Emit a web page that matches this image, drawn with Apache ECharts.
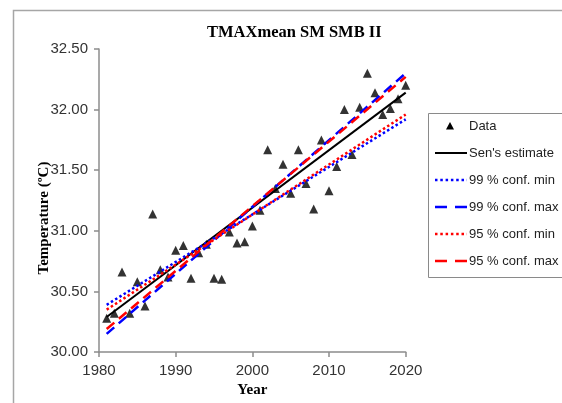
<!DOCTYPE html>
<html>
<head>
<meta charset="utf-8">
<script src="https://cdn.jsdelivr.net/npm/echarts@6/dist/echarts.min.js"></script>
<style>
html,body{margin:0;padding:0;background:#fff;}
#chart{width:562px;height:403px;}
</style>
</head>
<body>
<div id="chart"></div>
<script>
// ---- data ----
const years = [1981,1982,1983,1984,1985,1986,1987,1988,1989,1990,
               1991,1992,1993,1994,1995,1996,1997,1998,1999,2000,
               2001,2002,2003,2004,2005,2006,2007,2008,2009,2010,
               2011,2012,2013,2014,2015,2016,2017,2018,2019,2020];
const tmaxMean = [30.28,30.32,30.66,30.32,30.58,30.38,31.14,30.68,30.62,30.84,
                  30.88,30.61,30.82,30.89,30.61,30.60,30.99,30.90,30.91,31.04,
                  31.17,31.67,31.35,31.55,31.31,31.67,31.39,31.18,31.75,31.33,
                  31.53,32.00,31.63,32.02,32.30,32.14,31.96,32.01,32.09,32.20];
const fitYears = [1981, 2020];
const senEstimate = [30.29, 32.14];
const conf99Min = [30.39, 31.92];
const conf99Max = [30.15, 32.30];
const conf95Min = [30.35, 31.96];
const conf95Max = [30.19, 32.27];
const seriesNames = ['Data', "Sen's estimate", '99 % conf. min', '99 % conf. max', '95 % conf. min', '95 % conf. max'];
const xTicks = ['1980', '1990', '2000', '2010', '2020'];
const yTicks = ['30.00','30.50','31.00','31.50','32.00','32.50'];

// ---- chart ----
const serifFont = "'Liberation Serif', 'Times New Roman', serif";
const sansFont = "'Liberation Sans', Arial, sans-serif";
const pair = vals => fitYears.map((y, i) => [y, vals[i]]);

const lineDefs = [
  {name: seriesNames[1], vals: senEstimate, color: '#000000', dash: 'solid', legendDash: null, width: 2},
  {name: seriesNames[2], vals: conf99Min, color: '#0000ff', dash: [2.5, 2.5], legendDash: [2.5, 2.8], width: 2.5},
  {name: seriesNames[3], vals: conf99Max, color: '#0000ff', dash: [10, 6], legendDash: [12, 8], width: 2.5},
  {name: seriesNames[4], vals: conf95Min, color: '#ff0000', dash: [2.5, 2.5], legendDash: [2.5, 2.8], width: 2.5},
  {name: seriesNames[5], vals: conf95Max, color: '#ff0000', dash: [10, 6], legendDash: [12, 8], width: 2.5}
];

const series = [{
  name: seriesNames[0],
  type: 'scatter',
  symbol: 'triangle',
  symbolSize: 9,
  itemStyle: {color: '#000'},
  data: years.map((y, i) => [y, tmaxMean[i]]),
  z: 2
}].concat(lineDefs.map((d, k) => ({
  name: d.name,
  type: 'line',
  showSymbol: false,
  symbol: 'none',
  data: pair(d.vals),
  lineStyle: {color: d.color, width: d.width, type: d.dash},
  z: 3 + k
})));

// legend drawn as graphics
const legendX = 428, legendY = 113, rowStart = 126, rowGap = 27;
const legendGraphics = [{
  type: 'rect',
  shape: {x: legendX + 0.5, y: legendY + 0.5, width: 200, height: 164},
  style: {fill: '#fff', stroke: '#8a8a8a', lineWidth: 1},
  z: 10
}];
legendGraphics.push({
  type: 'polygon',
  shape: {points: [[450, rowStart - 4], [454, rowStart + 3.5], [446, rowStart + 3.5]]},
  style: {fill: '#000'},
  z: 11
});
lineDefs.forEach((d, k) => {
  const yy = rowStart + rowGap * (k + 1);
  legendGraphics.push({
    type: 'line',
    shape: {x1: 435, y1: yy, x2: 467, y2: yy},
    style: {stroke: d.color, lineWidth: d.width, lineDash: d.legendDash},
    z: 11
  });
});
seriesNames.forEach((n, k) => {
  legendGraphics.push({
    type: 'text',
    x: 469, y: rowStart + rowGap * k,
    style: {text: n, font: '13px ' + sansFont, fill: '#222', textVerticalAlign: 'middle'},
    z: 11
  });
});

const option = {
  animation: false,
  backgroundColor: '#fff',
  title: {
    text: 'TMAXmean SM SMB II',
    left: 207, top: 24, padding: 0,
    textStyle: {fontFamily: serifFont, fontWeight: 'bold', fontSize: 16.5, color: '#000'}
  },
  grid: {left: 99, right: 156.3, top: 49, bottom: 42.3, containLabel: false},
  xAxis: {
    type: 'value', min: Number(xTicks[0]), max: Number(xTicks[xTicks.length - 1]), interval: 10,
    name: 'Year', nameLocation: 'middle', nameGap: 29,
    nameTextStyle: {fontFamily: serifFont, fontWeight: 'bold', fontSize: 15, color: '#000', verticalAlign: 'top'},
    axisLine: {lineStyle: {color: '#8c8c8c', width: 1.5}},
    axisTick: {show: true, inside: false, length: 5, lineStyle: {color: '#8c8c8c', width: 1.5}},
    axisLabel: {margin: 11, fontFamily: sansFont, fontSize: 15, color: '#333',
      formatter: v => xTicks[Math.round((v - 1980) / 10)] || String(v)},
    splitLine: {show: false}
  },
  yAxis: {
    type: 'value', min: 30, max: 32.5, interval: 0.5,
    axisLine: {show: true, lineStyle: {color: '#8c8c8c', width: 1.5}},
    axisTick: {show: true, inside: false, length: 5, lineStyle: {color: '#8c8c8c', width: 1.5}},
    axisLabel: {margin: 11, fontFamily: sansFont, fontSize: 15, color: '#333',
      formatter: v => yTicks[Math.round((v - 30) / 0.5)] || v.toFixed(2)},
    splitLine: {show: false}
  },
  series: series,
  graphic: [{
    type: 'rect',
    shape: {x: 13.5, y: 10.5, width: 700, height: 500},
    style: {fill: 'none', stroke: '#a6a6a6', lineWidth: 1.5},
    z: 1, silent: true
  }, {
    type: 'text',
    x: 44, y: 218, rotation: Math.PI / 2,
    style: {text: 'Temperature (ºC)', font: 'bold 15px ' + serifFont, fill: '#000', textAlign: 'center', textVerticalAlign: 'middle'},
    z: 5
  }].concat(legendGraphics)
};

const chart = echarts.init(document.getElementById('chart'), null, {renderer: 'canvas'});
chart.setOption(option);
</script>
</body>
</html>
